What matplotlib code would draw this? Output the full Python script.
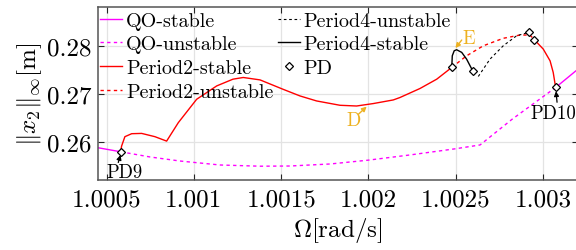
import matplotlib
matplotlib.use("Agg")
import matplotlib.pyplot as plt

plt.rcParams['font.family'] = ['cmr10', 'DejaVu Serif']
plt.rcParams['mathtext.fontset'] = 'cm'
plt.rcParams['axes.unicode_minus'] = False
plt.rcParams['axes.formatter.use_mathtext'] = True

# ---- data ----
qo_stable_left_x = [1.000451, 1.000581]
qo_stable_left_y = [0.25879, 0.25795]
qo_unstable_x = [1.000581, 1.000749, 1.000920, 1.001150, 1.001379, 1.001550, 1.001780,
                 1.001997, 1.002238, 1.002499, 1.002639, 1.002822, 1.003072]
qo_unstable_y = [0.25795, 0.25687, 0.25603, 0.25520, 0.25495, 0.25499, 0.25541,
                 0.25620, 0.25729, 0.25858, 0.25937, 0.26470, 0.27132]
qo_stable_right_x = [1.003072, 1.003200]
qo_stable_right_y = [0.27132, 0.27514]

p2_stable1_x = [1.000581, 1.000586, 1.000605, 1.000644, 1.000701, 1.000777, 1.000844,
                1.000911, 1.001016, 1.001131, 1.001224, 1.001283, 1.001379, 1.001510,
                1.001608, 1.001703, 1.001837, 1.001932, 1.002028, 1.002142, 1.002180,
                1.002295, 1.002391, 1.002477]
p2_stable1_y = [0.25795, 0.25912, 0.26109, 0.26171, 0.26177, 0.26109, 0.26017,
                0.26401, 0.26887, 0.27165, 0.27305, 0.27340, 0.27290, 0.27096,
                0.26956, 0.26852, 0.26762, 0.26747, 0.26798, 0.26873, 0.26923,
                0.27111, 0.27305, 0.27549]
p2_unstable_x = [1.002477, 1.002562, 1.002658, 1.002772, 1.002868, 1.002925, 1.002950]
p2_unstable_y = [0.27549, 0.27791, 0.28000, 0.28155, 0.28223, 0.28223, 0.28125]
p2_stable2_x = [1.002950, 1.003001, 1.003040, 1.003058, 1.003072]
p2_stable2_y = [0.28125, 0.27931, 0.27687, 0.27445, 0.27132]

p4_stable_x = [1.002477, 1.002480, 1.002491, 1.002505, 1.002534, 1.002562, 1.002597]
p4_stable_y = [0.27549, 0.27791, 0.27896, 0.27917, 0.27862, 0.27722, 0.27478]
p4_unstable_x = [1.002629, 1.002696, 1.002772, 1.002849, 1.002921]
p4_unstable_y = [0.27361, 0.27722, 0.28000, 0.28209, 0.28280]

pd_x = [1.000581, 1.002477, 1.002597, 1.002921, 1.002950, 1.003072]
pd_y = [0.25795, 0.27549, 0.27478, 0.28280, 0.28125, 0.27132]

xticks = [1.0005, 1.001, 1.0015, 1.002, 1.0025, 1.003]
xticklabels = ['1.0005', '1.001', '1.0015', '1.002', '1.0025', '1.003']
yticks = [0.26, 0.27, 0.28]
yticklabels = ['0.26', '0.27', '0.28']

MAG = '#FF00FF'
RED = '#FF0000'
ORANGE = '#EDB120'

fig = plt.figure(figsize=(5.76, 2.51), dpi=100)
ax = fig.add_axes([98/576, (251-181)/251, (578-98)/576, (181-8)/251])

lw = 1.0
dash = (0, (2.4, 2.4))
ax.plot(qo_stable_left_x, qo_stable_left_y, color=MAG, lw=lw, label='QO-stable')
ax.plot(qo_unstable_x, qo_unstable_y, color=MAG, lw=lw, ls=dash, label='QO-unstable')
ax.plot(qo_stable_right_x, qo_stable_right_y, color=MAG, lw=lw)
ax.plot(p2_stable1_x, p2_stable1_y, color=RED, lw=lw, label='Period2-stable')
ax.plot(p2_unstable_x, p2_unstable_y, color=RED, lw=lw, ls=dash, label='Period2-unstable')
ax.plot(p2_stable2_x, p2_stable2_y, color=RED, lw=lw)
ax.plot(p4_unstable_x, p4_unstable_y, color='k', lw=0.8, ls=dash, label='Period4-unstable')
ax.plot(p4_stable_x, p4_stable_y, color='k', lw=lw, label='Period4-stable')
ax.plot(pd_x, pd_y, ls='none', marker='D', ms=4.0, mfc='white', mec='k', mew=0.9,
        label='PD', zorder=5)

ax.set_xlim(1.000451, 1.003200)
ax.set_ylim(0.25208, 0.28806)
ax.set_xticks(xticks)
ax.set_xticklabels(xticklabels)
ax.set_yticks(yticks)
ax.set_yticklabels(yticklabels)
ax.tick_params(direction='in', length=4, width=0.8, labelsize=18, top=True, right=True,
               color='#262626')
ax.tick_params(axis='x', pad=6)
ax.tick_params(axis='y', pad=5)
ax.grid(True, color='#E3E3E3', lw=0.9)
ax.set_axisbelow(True)
for s in ax.spines.values():
    s.set_color('#555555')
    s.set_linewidth(1.1)

ax.set_xlabel(r'$\Omega[\mathrm{rad/s}]$', fontsize=18, labelpad=3)
ax.set_ylabel(r'$\|x_2\|_\infty[\mathrm{m}]$', fontsize=18, labelpad=2)

# annotations
ap_k = dict(arrowstyle='-|>', color='k', lw=0.9, mutation_scale=7, shrinkA=0, shrinkB=0)
ap_o = dict(arrowstyle='-|>', color=ORANGE, lw=1.0, mutation_scale=7, shrinkA=0, shrinkB=0)
ax.annotate('', xy=(1.000580, 0.25729), xytext=(1.000567, 0.25572), arrowprops=ap_k)
ax.text(1.000600, 0.25374, 'PD9', fontsize=13.5, ha='center', va='center')
ax.annotate('', xy=(1.003074, 0.27054), xytext=(1.003080, 0.26825), arrowprops=ap_k)
ax.text(1.003057, 0.26595, 'PD10', fontsize=13.5, ha='center', va='center')
ax.annotate('', xy=(1.001990, 0.26735), xytext=(1.001942, 0.26574), arrowprops=ap_o)
ax.text(1.001917, 0.26449, 'D', fontsize=13.5, ha='center', va='center', color=ORANGE)
ax.annotate('', xy=(1.002498, 0.27952), xytext=(1.002534, 0.28119), arrowprops=ap_o)
ax.text(1.002576, 0.28161, 'E', fontsize=13.5, ha='center', va='center', color=ORANGE)

leg = ax.legend(ncol=2, loc='upper left', bbox_to_anchor=(0.0, 0.985), frameon=False,
                fontsize=14.5, handlelength=1.1, handletextpad=0.2, columnspacing=0.2,
                labelspacing=0.28, borderaxespad=0.0, borderpad=0.1)

fig.savefig('out.png', dpi=100)
